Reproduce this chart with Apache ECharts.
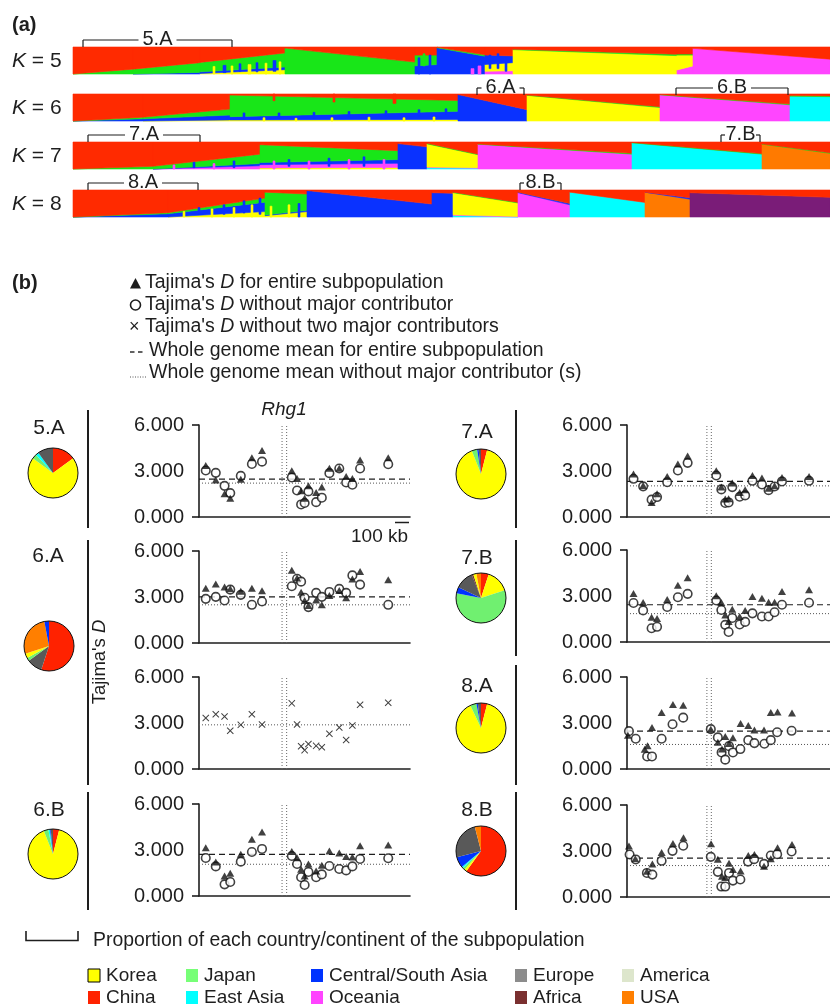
<!DOCTYPE html>
<html><head><meta charset="utf-8">
<script src="https://cdn.jsdelivr.net/npm/echarts@6/dist/echarts.min.js"></script>
<style>html,body{margin:0;padding:0;background:#fff}#c{width:830px;height:1007px}</style>
</head><body><div id="c"></div>
<script>
// ---------------- DATA ----------------
// Panel (a): STRUCTURE-style ancestry blocks. x = individual position (0..757),
// layers listed bottom -> top as [cluster, fraction at block start, fraction at block end]; remainder = red cluster
const structK5 = [
  [0, 60, ['G',0,0.18]],
  [60, 127, ['B',0,0.06], ['G',0.18,0.36]],
  [127, 212, ['Y',0.02,0.16], ['B',0.06,0.1], ['G',0.35,0.52]],
  [212, 342, ['G',0.96,0.44]],
  [342, 364, ['B',0.3,0.35], ['G',0.4,0.35]],
  [364, 412, ['B',0.97,0.66], ['G',0.02,0.05]],
  [412, 440, ['P',0.1,0.12], ['Y',0.25,0.3], ['B',0.35,0.25]],
  [440, 604, ['Y',0.9,0.68], ['G',0.02,0.05]],
  [604, 620, ['P',0.15,0.3], ['Y',0.55,0.4], ['G',0.04,0.04]],
  [620, 757, ['P',0.95,0.55]]
];
const structK6 = [
  [0, 70, ['B',0,0.08], ['G',0,0.06]],
  [70, 157, ['Y',0,0.04], ['B',0.08,0.18], ['G',0.06,0.22]],
  [157, 385, ['Y',0.04,0.06], ['B',0.12,0.3], ['G',0.8,0.4]],
  [385, 454, ['B',0.98,0.42]],
  [454, 587, ['Y',0.95,0.5], ['G',0.01,0.03]],
  [587, 717, ['P',0.97,0.6], ['G',0.01,0.03]],
  [717, 757, ['C',0.92,0.9], ['G',0.02,0.03]]
];
const structK7 = [
  [0, 80, ['G',0,0.1]],
  [80, 187, ['P',0,0.12], ['B',0,0.08], ['G',0.1,0.35]],
  [187, 325, ['Y',0.04,0.06], ['P',0.12,0.15], ['B',0.08,0.14], ['G',0.66,0.33]],
  [325, 354, ['B',0.94,0.82]],
  [354, 405, ['C',0.05,0.03], ['P',0.02,0.02], ['Y',0.86,0.48], ['G',0.02,0.02]],
  [405, 559, ['P',0.92,0.55], ['G',0.01,0.03]],
  [559, 689, ['C',0.97,0.55], ['G',0.01,0.02]],
  [689, 757, ['O',0.92,0.58], ['G',0.01,0.02]]
];
const structK8 = [
  [0, 95, ['B',0,0.12], ['G',0,0.04]],
  [95, 192, ['Y',0,0.2], ['B',0.12,0.35], ['G',0.04,0.15]],
  [192, 234, ['Y',0.05,0.2], ['B',0.02,0.05], ['G',0.85,0.6]],
  [234, 359, ['B',0.98,0.48]],
  [359, 380, ['B',0.9,0.88]],
  [380, 445, ['C',0.06,0], ['P',0.02,0.02], ['Y',0.82,0.5], ['G',0.02,0.02]],
  [445, 497, ['P',0.9,0.45], ['B',0.02,0.05]],
  [497, 572, ['C',0.92,0.54]],
  [572, 617, ['O',0.92,0.66], ['B',0,0.05]],
  [617, 757, ['V',0.9,0.73]]
];
// individual-level spikes: [x, width, cluster, low, high]
const spikesK5 = [
  [140,2,'Y',0,0.28],[150,3,'B',0.05,0.32],[158,2,'Y',0,0.3],[166,2,'B',0.1,0.38],[175,3,'Y',0,0.35],
  [183,2,'B',0.08,0.42],[192,2,'Y',0,0.4],[200,3,'B',0.1,0.5],[206,2,'Y',0,0.45],
  [345,2,'B',0,0.6],[350,2,'G',0.3,0.75],[356,2,'B',0,0.7],[398,3,'P',0,0.2],[405,3,'P',0,0.3],
  [416,2,'B',0.2,0.7],[424,2,'B',0.2,0.75],[432,2,'B',0.1,0.6]
];
const spikesK6 = [
  [170,2,'B',0.1,0.3],[190,2,'Y',0,0.12],[205,2,'B',0.1,0.3],[222,2,'Y',0,0.1],[240,2,'B',0.1,0.32],
  [258,2,'Y',0,0.12],[275,2,'B',0.15,0.35],[295,2,'Y',0,0.14],[312,2,'B',0.2,0.38],[330,2,'Y',0,0.12],
  [345,2,'B',0.2,0.42],[360,2,'Y',0,0.15],[372,2,'B',0.25,0.45],
  [200,2,'R',0.75,1],[260,2,'R',0.7,1],[320,3,'R',0.65,1]
];
const spikesK7 = [
  [100,2,'P',0,0.15],[120,2,'B',0.05,0.25],[140,2,'P',0,0.2],[160,2,'B',0.05,0.3],[200,2,'P',0,0.3],
  [215,2,'B',0.1,0.35],[235,2,'P',0,0.3],[255,2,'B',0.1,0.4],[275,2,'P',0,0.35],[290,2,'B',0.1,0.45],[310,2,'P',0,0.35]
];
const spikesK8 = [
  [110,2,'Y',0,0.2],[125,2,'B',0.1,0.35],[138,2,'Y',0,0.3],[150,2,'B',0.1,0.45],[160,2,'Y',0,0.35],
  [170,2,'B',0.15,0.6],[178,2,'Y',0,0.45],[186,2,'B',0.1,0.7],[197,2,'Y',0,0.4],[215,2,'Y',0,0.45],[225,2,'B',0,0.5]
];
const structRows = [structK5, structK6, structK7, structK8];
const spikeRows = [spikesK5, spikesK6, spikesK7, spikesK8];
const structK = ['5','6','7','8'];
const brackets = [ // [x start, x end, y, label]
  [83, 232, 40, '5.A'], [477, 524, 88, '6.A'], [676, 788, 88, '6.B'],
  [88, 200, 135, '7.A'], [721, 760, 135, '7.B'],
  [88, 198, 183, '8.A'], [520, 561, 183, '8.B']
];

// Panel (b): Tajima's D windows (kb along the chromosome segment)
const windowKb = [50,124,189,231,309,391,466,686,725,755,781,809,866,908,964,1037,1088,1134,1191,1399];
const rhg1Kb = [614, 648];
const xMaxKb = 1560;

const tri5A  = [3.36,2.42,1.52,1.23,2.47,3.87,4.33,3.01,2.51,1.71,1.23,2.03,1.60,1.95,3.18,3.18,2.64,2.51,3.72,3.87];
const circ5A = [3.03,2.88,2.03,1.56,2.68,3.46,3.61,2.58,1.73,0.82,0.91,1.67,0.97,1.26,2.86,3.16,2.25,2.10,3.16,3.44];
const tri6A  = [3.57,3.85,3.66,3.53,3.38,3.57,3.40,4.75,4.24,3.31,2.77,2.45,2.80,2.49,3.10,3.42,2.95,4.17,4.67,4.13];
const circ6A = [2.88,3.01,2.77,3.48,3.14,2.49,2.71,3.70,4.19,4.00,2.95,2.34,3.27,3.01,3.33,3.53,3.27,4.41,3.81,2.49];
const cross6A= [3.33,3.57,3.42,2.49,2.88,3.57,2.90,4.28,2.90,1.48,1.23,1.63,1.51,1.42,2.30,2.71,1.89,2.84,4.19,4.32];
const tri6B  = [3.15,2.22,1.30,1.48,2.72,3.70,4.17,2.91,2.50,1.74,1.30,2.09,1.63,2.00,2.93,2.80,2.57,2.54,3.28,3.33];
const circ6B = [2.48,1.93,0.76,0.91,2.24,2.87,3.07,2.61,2.09,1.22,0.72,1.57,1.22,1.41,1.96,1.76,1.67,1.93,2.41,2.46];
const tri7A  = [2.81,2.05,0.95,1.52,2.64,3.46,3.98,3.01,1.95,1.17,1.19,2.21,1.60,1.77,2.71,2.55,1.88,2.03,2.58,2.64];
const circ7A = [2.49,2.00,1.13,1.30,2.27,3.03,3.53,2.71,1.80,0.91,0.95,1.95,1.32,1.41,2.36,2.12,1.75,1.99,2.32,2.36];
const tri7B  = [3.16,2.58,1.61,1.53,2.77,3.70,4.19,3.01,2.58,1.76,1.33,2.13,1.66,2.06,2.97,2.86,2.60,2.60,3.29,3.40];
const circ7B = [2.54,2.06,0.90,0.99,2.28,2.92,3.14,2.71,2.09,1.12,0.65,1.57,1.14,1.31,1.87,1.66,1.66,1.94,2.43,2.56];
const tri8AKb  = [7,136,158,192,266,353,432,644,698,730,755,784,814,873,932,979,1053,1105,1157,1268];
const tri8A    = [2.20,1.28,1.52,2.71,3.68,4.20,4.16,2.60,1.75,1.30,2.12,1.67,2.03,2.97,2.84,2.55,2.55,3.68,3.72,3.66];
const circ8AKb = [15,67,155,192,266,350,432,644,698,727,755,784,814,871,932,979,1056,1105,1154,1265];
const circ8A   = [2.47,1.97,0.82,0.82,1.97,2.92,3.35,2.60,2.06,1.08,0.61,1.49,1.08,1.30,1.88,1.69,1.65,1.88,2.40,2.49];
const tri8BKb  = [15,64,153,195,266,353,434,646,698,730,755,784,814,873,932,979,1053,1105,1157,1268];
const tri8B    = [3.32,2.50,1.68,2.16,2.90,3.49,3.86,3.47,2.47,1.35,1.27,2.20,1.79,1.70,2.71,2.77,2.00,2.50,3.21,3.43];
const circ8BKb = [20,67,153,195,266,350,432,644,698,725,755,784,814,871,930,977,1053,1105,1154,1265];
const circ8B   = [2.77,2.45,1.57,1.46,2.36,3.01,3.34,2.62,1.64,0.68,0.68,1.57,1.07,1.14,2.31,2.47,2.16,2.71,2.79,2.97];

const meanEntire   = [2.47, 3.01, null, 2.72, 2.32, 2.43, 2.47, 2.53];
const meanWithout  = [2.21, 2.49, 2.88, 2.07, 2.03, 1.85, 1.60, 2.05];
const yTicks = [0, 3, 6];

// Pie composition (clockwise from 12 o'clock)
const pie5A = [['China',15],['Korea',70],['Japan',3],['East Asia',2],['Europe',10]];
const pie6A = [['China',55],['Europe',10],['Japan',2],['Korea',3],['USA',27],['Central/South Asia',3]];
const pie6B = [['China',4],['Korea',90],['Japan',3],['East Asia',1],['Central/South Asia',0.5],['Europe',1.5]];
const pie7A = [['China',4],['Korea',90],['Japan',3.5],['Central/South Asia',1],['Europe',1.5]];
const pie7B = [['China',5],['Korea',15],['Japan',58],['Central/South Asia',4],['Europe',12],['Africa',1],['Korea',2],['USA',3]];
const pie8A = [['China',4],['Korea',89],['Japan',4],['Central/South Asia',1],['Europe',2]];
const pie8B = [['China',60],['Korea',1.5],['Japan',1.5],['East Asia',1],['Central/South Asia',7],['Europe',25],['USA',4]];

const legendRows = [['Korea','Japan','Central/South Asia','Europe','America'],['China','East Asia','Oceania','Africa','USA']];

// ---------------- STYLE ----------------
const FONT = "'Liberation Sans', Arial, Helvetica, sans-serif";
const INK = '#1e1e1e';
const structPalette = {R:'#ff2a00', G:'#18e618', B:'#0a32ff', Y:'#ffff00', P:'#ff45ff', C:'#00ffff', O:'#ff7a00', V:'#7a1c78'};
const structKeys = Object.keys(structPalette);
const pieColors = {'Korea':'#ffff00','China':'#ff2200','Japan':'#70f070','East Asia':'#00ffff','Central/South Asia':'#0033ff','Oceania':'#ff44ff','Europe':'#595959','Africa':'#7a3030','America':'#dde6cc','USA':'#ff7f00'};
const legendColors = Object.assign({}, pieColors, {'Japan':'#77ff77','Europe':'#8c8c8c'});

// ---------------- LAYOUT ----------------
const structTops = [47, 94, 142, 190];
const structH = 27;
const plotBox = [
  [199,425],[199,551],[199,677],[199,804],
  [627,425],[627,550],[627,677],[627,805]
];
const plotW = 211, plotH = 92;
const piePos = [[53,473],[49,646],[53,854],[481,474],[481,598],[481,728],[481,851]];
const pieLabelPos = [[49,428],[48,556],[49,810],[477,432],[477,558],[477,686],[477,810]];
const pieNames = ['5.A','6.A','6.B','7.A','7.B','8.A','8.B'];
const pieData = [pie5A, pie6A, pie6B, pie7A, pie7B, pie8A, pie8B];

function buildStruct(blocks, spikes){
  const out = [];
  blocks.forEach(b => {
    const x0 = b[0], x1 = b[1]; let c0 = 0, c1 = 0;
    for (let i = 2; i < b.length; i++) {
      const [k, f0, f1] = b[i];
      out.push([x0, x1, c0, c0 + f0, c1, c1 + f1, structKeys.indexOf(k)]);
      c0 += f0; c1 += f1;
    }
    out.push([x0, x1, c0, 1, c1, 1, 0]);
  });
  spikes.forEach(([x, w, k, lo, hi]) => out.push([x, x + w, lo, hi, lo, hi, structKeys.indexOf(k)]));
  return out;
}
function renderStruct(params, api){
  const x0 = api.value(0), x1 = api.value(1);
  const pts = [api.coord([x0, api.value(2)]), api.coord([x1, api.value(4)]),
               api.coord([x1, api.value(5)]), api.coord([x0, api.value(3)])];
  const col = structPalette[structKeys[api.value(6)]];
  return {type:'polygon', shape:{points:pts}, style:{fill:col, stroke:col, lineWidth:0.6}};
}

const grids = [], xAxes = [], yAxes = [], series = [];
structRows.forEach((rows, r) => {
  grids.push({left:73, top:structTops[r], width:757, height:structH});
  xAxes.push({type:'value', gridIndex:r, min:0, max:757, show:false});
  yAxes.push({type:'value', gridIndex:r, min:0, max:1, show:false});
  series.push({type:'custom', coordinateSystem:'cartesian2d', xAxisIndex:r, yAxisIndex:r,
    data: buildStruct(rows, spikeRows[r]), encode:{x:[0,1], y:[2,3]}, renderItem: renderStruct, silent:true});
});

const plotSeries = [
  {tri:tri5A, circ:circ5A}, {tri:tri6A, circ:circ6A}, {cross:cross6A}, {tri:tri6B, circ:circ6B},
  {tri:tri7A, circ:circ7A}, {tri:tri7B, circ:circ7B},
  {tri:tri8A, triX:tri8AKb, circ:circ8A, circX:circ8AKb},
  {tri:tri8B, triX:tri8BKb, circ:circ8B, circX:circ8BKb}
];
const pair = (xs, ys) => ys.map((v, i) => [xs[i], v]);
plotSeries.forEach((p, k) => {
  const gi = 4 + k;
  grids.push({left:plotBox[k][0], top:plotBox[k][1], width:plotW, height:plotH});
  xAxes.push({type:'value', gridIndex:gi, min:0, max:xMaxKb,
    axisLine:{show:true, onZero:false, lineStyle:{color:INK, width:1.6}},
    axisTick:{show:false}, axisLabel:{show:false}, splitLine:{show:false}});
  yAxes.push({type:'value', gridIndex:gi, min:0, max:6, interval:3,
    axisLine:{show:true, lineStyle:{color:INK, width:1.6}},
    axisTick:{show:true, length:7, customValues:[0,6], lineStyle:{color:INK, width:1.6}},
    axisLabel:{show:true, customValues:yTicks, formatter:v => v.toFixed(3), fontSize:20, fontFamily:FONT, color:INK, margin:15},
    splitLine:{show:false}});
  const base = {xAxisIndex:gi, yAxisIndex:gi, silent:true, animation:false};
  rhg1Kb.forEach(x => series.push(Object.assign({type:'line', data:[[x,0],[x,6.06]], symbol:'none', clip:false,
    lineStyle:{color:'#666', width:1, type:[1,2]}, z:1}, base)));
  series.push(Object.assign({type:'line', data:[[0,meanWithout[k]],[xMaxKb,meanWithout[k]]], symbol:'none',
    lineStyle:{color:'#555', width:1, type:[1,2]}, z:1}, base));
  if (meanEntire[k] != null)
    series.push(Object.assign({type:'line', data:[[0,meanEntire[k]],[xMaxKb,meanEntire[k]]], symbol:'none',
      lineStyle:{color:INK, width:1.2, type:[6,4]}, z:1}, base));
  if (p.circ) series.push(Object.assign({type:'scatter', data:pair(p.circX || windowKb, p.circ), symbol:'circle', symbolSize:8.5,
    itemStyle:{color:'#fff', borderColor:'#111', borderWidth:1.6}, z:3}, base));
  if (p.tri) series.push(Object.assign({type:'scatter', data:pair(p.triX || windowKb, p.tri), symbol:'triangle', symbolSize:[8,7],
    itemStyle:{color:'#111'}, z:4}, base));
  if (p.cross) series.push(Object.assign({type:'scatter', data:pair(windowKb, p.cross),
    symbol:'path://M1,0 L5,4 L9,0 L10,1 L6,5 L10,9 L9,10 L5,6 L1,10 L0,9 L4,5 L0,1 Z', symbolSize:7,
    itemStyle:{color:'#111'}, z:4}, base));
});

pieData.forEach((d, i) => {
  series.push({type:'pie', center:piePos[i], radius:25, startAngle:90, clockwise:true, silent:true,
    label:{show:false}, labelLine:{show:false}, itemStyle:{borderWidth:0},
    data: d.map(([n, v]) => ({name:n, value:v, itemStyle:{color:pieColors[n]}}))});
});

// ---------------- GRAPHIC (text & decoration) ----------------
const G = [];
function txt(x, y, text, size, o){
  G.push({type:'text', x, y, silent:true, z:20, rotation:(o && o.rot) || 0,
    style:Object.assign({text, fontSize:size, fontFamily:FONT, fill:INK, align:'left', verticalAlign:'middle'}, (o && o.style) || {})});
}
function line(x1, y1, x2, y2, w, dash, col){
  G.push({type:'line', silent:true, z:20, shape:{x1,y1,x2,y2}, style:{stroke:col || INK, lineWidth:w || 1, lineDash:dash || null}});
}
const italic = {i:{fontStyle:'italic', fontSize:21, fontFamily:FONT, fill:INK}};
txt(12, 25, '(a)', 20, {style:{fontWeight:'bold'}});
structK.forEach((k, r) => txt(12, structTops[r] + 14, '{i|K} = ' + k, 21, {style:{rich:italic}}));
brackets.forEach(([x1, x2, y, lab]) => {
  const c = (x1 + x2) / 2, gap = 19;
  line(x1, y + 7, x1, y, 1.2); line(x2, y + 7, x2, y, 1.2);
  line(x1, y, Math.max(x1 + 4, c - gap), y, 1.2);
  line(Math.min(x2 - 4, c + gap), y, x2, y, 1.2);
  txt(c, y - 1, lab, 20, {style:{align:'center'}});
});

txt(12, 283, '(b)', 20, {style:{fontWeight:'bold'}});
const it19 = {i:{fontStyle:'italic', fontSize:19.5, fontFamily:FONT, fill:INK}};
G.push({type:'polygon', silent:true, z:20, shape:{points:[[130,288.5],[141,288.5],[135.5,278]]}, style:{fill:INK}});
txt(145, 283, "Tajima's {i|D} for entire subpopulation", 19.5, {style:{rich:it19}});
G.push({type:'circle', silent:true, z:20, shape:{cx:135.5, cy:305, r:5}, style:{fill:null, stroke:INK, lineWidth:1.6}});
txt(145, 305, "Tajima's {i|D} without major contributor", 19.5, {style:{rich:it19}});
txt(129, 327, '×', 18);
txt(145, 327, "Tajima's {i|D} without two major contributors", 19.5, {style:{rich:it19}});
line(130, 352, 134.5, 352, 1.4); line(138, 352, 142.5, 352, 1.4);
txt(149, 351, 'Whole genome mean for entire subpopulation', 19.5);
line(130, 377, 147, 377, 1, [1,1.5], '#555');
txt(149, 373, 'Whole genome mean without major contributor (s)', 19.5);

txt(284, 410, 'Rhg1', 19, {style:{align:'center', fontStyle:'italic'}});
line(395, 522.5, 409, 522.5, 1.5);
txt(351, 537, '100 kb', 19);
txt(100, 662, "Tajima's {i|D}", 18.5, {rot:Math.PI/2, style:{align:'center', rich:{i:{fontStyle:'italic', fontSize:18.5, fontFamily:FONT, fill:INK}}}});

[[410,528],[540,785],[792,910]].forEach(([a,b]) => line(88, a, 88, b, 2));
[[410,528],[540,656],[665,785],[792,910]].forEach(([a,b]) => line(516, a, 516, b, 2));

pieNames.forEach((n, i) => {
  txt(pieLabelPos[i][0], pieLabelPos[i][1], n, 21, {style:{align:'center'}});
  G.push({type:'circle', silent:true, z:20, shape:{cx:piePos[i][0], cy:piePos[i][1], r:25}, style:{fill:null, stroke:'#111', lineWidth:1}});
});

G.push({type:'polyline', silent:true, z:20, shape:{points:[[26,931],[26,940.5],[78,940.5],[78,931]]}, style:{stroke:INK, lineWidth:1.6, fill:null}});
txt(93, 941, 'Proportion of each country/continent of the subpopulation', 19.4);
const legX = [88, 186, 311, 515, 622], legY = [976, 998];
legendRows.forEach((row, r) => row.forEach((n, c) => {
  G.push({type:'rect', silent:true, z:20, shape:{x:legX[c], y:legY[r]-7, width:12, height:13},
    style:{fill:legendColors[n], stroke:n === 'Korea' ? '#000' : null, lineWidth:1}});
  txt(legX[c] + 18, legY[r], n, 19);
}));

const chart = echarts.init(document.getElementById('c'), null, {renderer:'canvas'});
chart.setOption({animation:false, backgroundColor:'#fff', grid:grids, xAxis:xAxes, yAxis:yAxes, series, graphic:{elements:G}});
</script></body></html>
